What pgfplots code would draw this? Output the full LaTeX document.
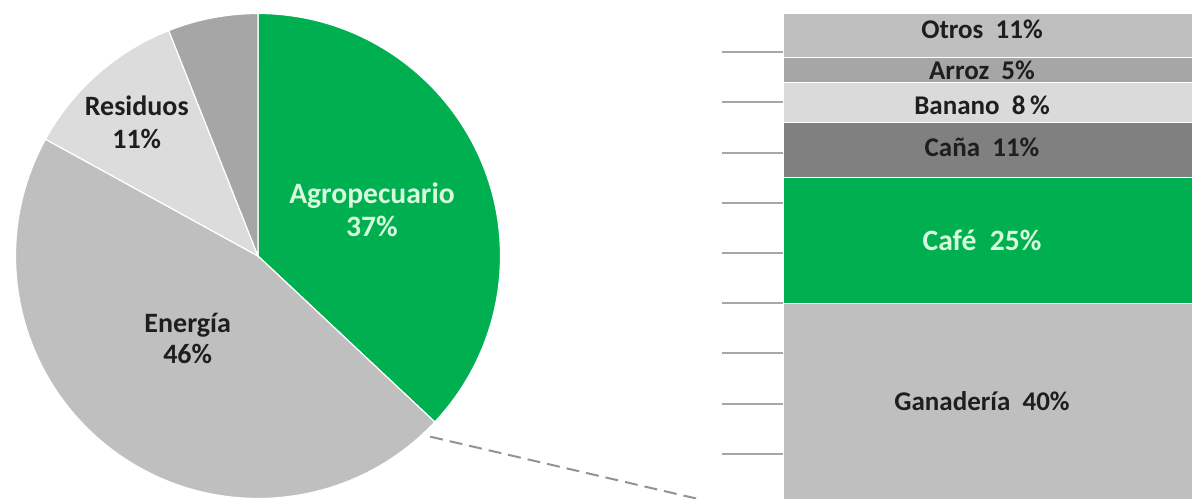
\documentclass[border=0pt]{standalone}
\usepackage{pgfplots}
\pgfplotsset{compat=1.18}
\usepackage{fontspec}
\setmainfont{Carlito}
\definecolor{agro}{RGB}{0,176,80}
\definecolor{gEn}{RGB}{191,191,191}
\definecolor{gRes}{RGB}{220,220,220}
\definecolor{gOt}{RGB}{166,166,166}
\definecolor{gCana}{RGB}{128,128,128}
\definecolor{gBan}{RGB}{218,218,218}
\definecolor{txt}{RGB}{30,30,30}
\definecolor{mint}{RGB}{215,250,220}
% start percentage, value percentage, colour
\newcommand{\pieslice}[3]{%
  \filldraw[fill=#3, draw=white, line width=0.6pt]
    (axis cs:0,0) -- (axis cs:{cos(90-3.6*#1)},{sin(90-3.6*#1)})
    arc[start angle={90-3.6*#1}, end angle={90-3.6*(#1+#2)}, radius=121.25pt] -- cycle;}
\tikzset{barlbl/.style={font=\fontsize{13.5}{16}\selectfont\bfseries, text=txt}}
\pgfplotsset{barframe/.style={at={(391.5pt,-3pt)}, anchor=south west,
  x=1pt, y=2.51pt, xmin=0, xmax=220, ymin=0, ymax=97.6, enlargelimits=false}}
\begin{document}
\begin{tikzpicture}
\useasboundingbox (0,0) rectangle (596pt,249pt);
\clip (0,0) rectangle (596pt,249pt);
% ---------- pie ----------
\begin{axis}[at={(129pt,121pt)}, anchor=center,
  x=121.25pt, y=121.25pt, xmin=-1.1, xmax=1.1, ymin=-1.1, ymax=1.1,
  hide axis, clip=false]
\pieslice{0}{37}{agro}
\pieslice{37}{46}{gEn}
\pieslice{83}{11}{gRes}
\pieslice{94}{6}{gOt}
\node[align=center, text=mint, font=\fontsize{14.8}{16.5}\selectfont\bfseries] at (axis cs:0.47,0.19) {Agropecuario\\37\%};
\node[align=center, text=txt, font=\fontsize{14}{16.5}\selectfont\bfseries] at (axis cs:-0.50,0.55) {Residuos\\11\%};
\node[align=center, text=txt, font=\fontsize{14}{16}\selectfont\bfseries] at (axis cs:-0.29,-0.34) {Energía\\46\%};
\draw[gray!85, line width=1pt, dash pattern=on 6.5pt off 3.5pt] (axis cs:0.71,-0.745) -- (axis cs:1.85,-1.01);
\end{axis}
% ---------- stacked bar ----------
\begin{axis}[barframe,
  ybar stacked, bar width=220pt,
  axis x line=none, axis y line*=left, y axis line style={draw=none},
  ytick={0,10,...,100}, yticklabels={},
  ytick style={draw=gray!70, line width=1pt},
  major tick length=30.5pt, tick align=outside]
\addplot[fill=gEn, draw=white, line width=0.6pt] coordinates {(110,40)};
\addplot[fill=agro, draw=white, line width=0.6pt] coordinates {(110,25)};
\addplot[fill=gCana, draw=white, line width=0.6pt] coordinates {(110,11)};
\addplot[fill=gBan, draw=white, line width=0.6pt] coordinates {(110,8)};
\addplot[fill=gOt, draw=white, line width=0.6pt] coordinates {(110,5)};
\addplot[fill=gEn, draw=white, line width=0.6pt] coordinates {(110,11)};
\end{axis}
% ---------- bar labels ----------
\begin{axis}[barframe, hide axis]
\node[barlbl] at (axis cs:99.5,20.5) {Ganadería~~40\%};
\node[barlbl, text=mint, font=\fontsize{14.8}{16}\selectfont\bfseries] at (axis cs:99.5,52.5) {Café~~25\%};
\node[barlbl] at (axis cs:99.5,71) {Caña~~11\%};
\node[barlbl] at (axis cs:99.5,79.5) {Banano~~8\,\%};
\node[barlbl] at (axis cs:99.5,86.3) {Arroz~~5\%};
\node[barlbl] at (axis cs:99.5,94.5) {Otros~~11\%};
\end{axis}
\end{tikzpicture}
\end{document}
